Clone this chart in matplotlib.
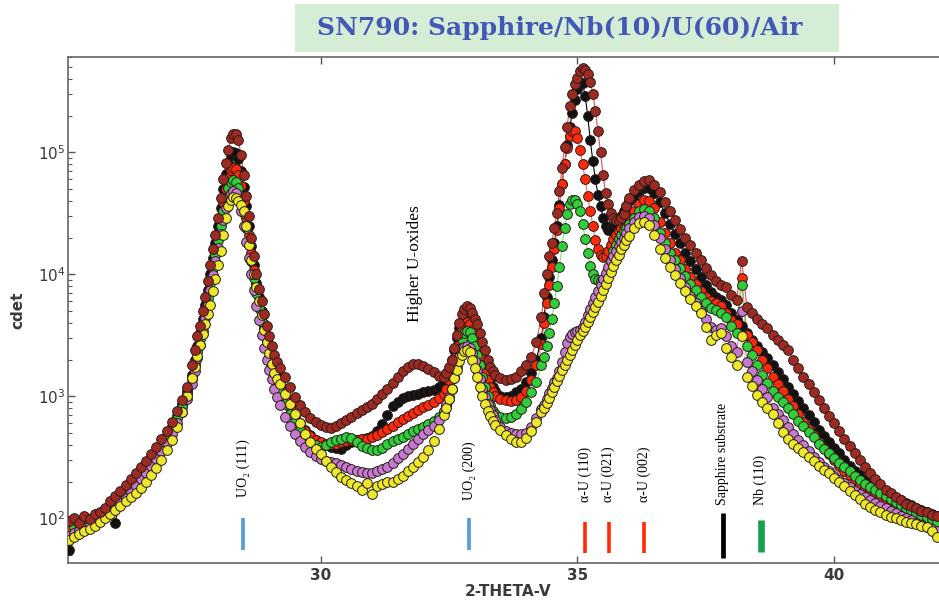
import numpy as np
import matplotlib
matplotlib.use("Agg")
import matplotlib.pyplot as plt
from matplotlib.patches import Rectangle
from matplotlib.ticker import NullLocator

plt.rcParams["mathtext.default"] = "bf"

# 2-theta scan positions (finer step over the steep peak flanks)
two_theta = np.round(np.concatenate([
    np.arange(25.1, 27.51, 0.1),
    np.arange(27.55, 29.21, 0.05),
    np.arange(29.3, 32.41, 0.1),
    np.arange(32.45, 33.41, 0.05),
    np.arange(33.5, 34.31, 0.1),
    np.arange(34.35, 36.01, 0.05),
    np.arange(36.1, 42.01, 0.1),
]), 2)

# counts, one list per scan
darkred = [95, 101, 92, 104, 99, 108, 112, 122, 138, 152, 168, 188, 210, 235, 262, 295, 335, 385, 445, 520, 620, 760, 940, 1200, 1800,
           2400, 3100, 3800, 5000, 6500, 8800, 12000, 16000, 21000, 29000, 42000, 60000, 82000, 105000, 130000, 142000, 140000,
           125000, 95000, 65000, 44000, 30000, 20000, 14000, 10000, 7600, 6000, 4700, 3800, 3100, 2600, 2200, 1900, 1700,
           1450, 1200, 980, 850, 740, 660, 610, 580, 560, 550, 570, 600, 640, 680, 730, 770, 820, 870, 950, 1040, 1150, 1280,
           1430, 1600, 1750, 1850, 1850, 1780, 1680, 1580, 1480, 1450,
           1550, 1750, 2000, 2500, 3200, 4000, 4700, 5200, 5500, 5300, 4800, 4300, 3900, 3300, 2800, 2400, 2000, 1750, 1600, 1500,
           1400, 1350, 1380, 1450, 1600, 1800, 2100, 2800, 4500,
           7000, 10000, 14000, 18000, 24000, 32000, 48000, 75000, 110000, 160000, 240000, 300000, 360000, 410000, 460000,
           490000, 470000, 440000, 380000, 300000, 220000, 150000, 100000, 65000, 46000, 38000, 32000, 29000, 28000, 28000,
           29000, 31000, 36000, 42000,
           49000, 54000, 58000, 59000, 54000, 47000, 39000, 33000, 28000, 23500, 20000, 17500, 15000, 13000, 11200, 9800, 8800,
           8200, 7800, 6800, 6200, 12900, 5400, 4800, 4300, 3900, 3600, 3200, 2900, 2650, 2400, 2000, 1700, 1450, 1250, 1080,
           930, 800, 690, 600, 520, 450, 390, 340, 300, 265, 235, 210, 190, 172, 160, 150, 140, 132, 125, 121, 114, 112, 106, 104]

black = [55, 85, 88, 90, 95, 98, 105, 112, 120, 92, 145, 165, 190, 218, 240, 270, 305, 350, 405, 475, 565, 690, 860, 1100, 1500,
         2000, 2600, 3300, 4300, 5600, 7500, 10000, 13500, 18000, 25000, 35000, 50000, 66000, 82000, 95000, 100000, 98000,
         88000, 70000, 52000, 36000, 25000, 17000, 12000, 8500, 6500, 5000, 3900, 3100, 2500, 2050, 1700, 1450, 1250,
         1000, 830, 700, 600, 530, 480, 440, 410, 395, 385, 380, 370, 400, 420, 440, 450, 455, 470, 520, 590, 700, 830, 900,
         960, 1000, 1030, 1050, 1080, 1100, 1130, 1200, 1300,
         1450, 1650, 2000, 2400, 3000, 3600, 4100, 4400, 4500, 4300, 3900, 3400, 2900, 2500, 2100, 1800, 1550, 1350, 1200, 1100,
         1000, 980, 1000, 1080, 1150, 1300, 1550, 2000, 3000,
         4500, 6500, 9500, 13000, 18000, 25000, 37000, 55000, 80000, 115000, 160000, 210000, 270000, 330000, 360000, 370000,
         290000, 200000, 125000, 85000, 60000, 45000, 36000, 29000, 25000, 23000, 23000, 24000, 26000, 28000, 30000, 33000,
         36000, 40000,
         44000, 48000, 51000, 51000, 46000, 39000, 32000, 26000, 21500, 18000, 15000, 12800, 11000, 9500, 8200, 7200, 6500,
         6200, 5600, 4800, 4200, 3800, 3300, 2900, 2600, 2300, 2050, 1800, 1580, 1380, 1200, 1050, 920, 800, 700, 610, 530,
         470, 420, 380, 340, 300, 270, 245, 225, 205, 190, 178, 168, 160, 152, 146, 140, 134, 128, 122, 117, 112, 108, 104]

red = [82, 90, 93, 96, 99, 102, 108, 116, 126, 138, 152, 170, 192, 215, 240, 270, 305, 350, 405, 470, 560, 680, 850, 1080, 1450,
       1900, 2450, 3100, 4000, 5200, 6900, 9200, 12200, 16000, 21500, 29000, 39000, 50000, 62000, 71000, 75000, 73000, 65000,
       53000, 40000, 29000, 21000, 15000, 10800, 7800, 5900, 4600, 3600, 2900, 2350, 1950, 1600, 1380, 1200,
       950, 800, 680, 590, 520, 470, 440, 420, 410, 405, 410, 420, 430, 435, 440, 445, 450, 460, 480, 505, 535, 570, 610, 650,
       690, 730, 770, 810, 850, 900, 960, 1050,
       1150, 1350, 1650, 2050, 2600, 3200, 3650, 3950, 4050, 3900, 3500, 3000, 2500, 2100, 1800, 1550, 1350, 1200, 1080, 1000,
       950, 930, 920, 930, 980, 1100, 1350, 1800, 2700,
       4000, 5800, 8200, 11500, 16000, 23000, 35000, 55000, 80000, 108000, 135000, 150000, 150000, 130000, 105000, 80000,
       60000, 44000, 33000, 25000, 19000, 16000, 14500, 13800, 14200, 15500, 17500, 19500, 21000, 22500, 24000, 25500,
       27000, 29000,
       33000, 38000, 41000, 40000, 35000, 27000, 22000, 18000, 15000, 13000, 11000, 9500, 8300, 7300, 6500, 6000, 5800, 5500,
       4800, 4200, 3900, 9300, 3200, 2800, 2400, 2000, 1700, 1450, 1250, 1100, 950, 830, 720, 620, 540, 480, 420, 375, 335,
       300, 270, 245, 225, 205, 190, 178, 168, 158, 150, 142, 136, 130, 124, 118, 113, 108, 104, 100, 97, 94]

green = [70, 85, 90, 93, 96, 100, 106, 113, 122, 133, 146, 162, 182, 205, 230, 258, 292, 335, 390, 455, 540, 660, 820, 1040, 1380,
         1800, 2300, 2950, 3800, 4900, 6400, 8500, 11200, 14500, 19000, 25000, 33000, 42000, 51000, 57000, 59000, 57000,
         51000, 42000, 32000, 24000, 17500, 12800, 9400, 7000, 5300, 4100, 3200, 2600, 2100, 1750, 1450, 1250, 1080,
         860, 720, 610, 530, 470, 425, 395, 385, 400, 425, 440, 450, 460, 455, 420, 390, 375, 365, 365, 380, 405, 430, 450,
         465, 490, 515, 540, 565, 595, 630, 680, 750,
         830, 950, 1150, 1450, 1900, 2450, 2950, 3300, 3450, 3350, 3000, 2600, 2200, 1800, 1450, 1200, 1000, 850, 760, 710,
         680, 670, 680, 720, 790, 900, 1080, 1300, 1800,
         2100, 2600, 3300, 4300, 5800, 8000, 11500, 17000, 24000, 31000, 38000, 41000, 41000, 38000, 33000, 26000, 19500,
         15000, 11800, 10000, 9200, 8900, 8800, 9000, 9800, 11000, 13000, 15500, 17500, 19500, 21000, 22500, 24000, 26000,
         29000, 33000, 34000, 33000, 29000, 22000, 18000, 15000, 13000, 11200, 9600, 8400, 7400, 6500, 5800, 5300, 5100, 4800,
         4500, 3800, 3300, 8200, 2600, 2200, 1800, 1500, 1280, 1100, 980, 900, 800, 710, 630, 570, 510, 460, 410, 370, 340,
         310, 285, 262, 242, 222, 206, 192, 180, 170, 160, 151, 143, 136, 129, 122, 116, 111, 106, 102, 98, 94]

purple = [72, 76, 80, 84, 88, 92, 98, 105, 113, 122, 134, 148, 165, 185, 208, 235, 267, 305, 355, 415, 495, 600, 750, 950, 1250,
          1600, 2050, 2650, 3400, 4400, 5700, 7500, 9800, 12800, 16500, 21500, 28000, 35000, 42000, 46500, 48000, 46500,
          41000, 33000, 25000, 18500, 13500, 10000, 7400, 5500, 4200, 3200, 2500, 2000, 1650, 1380, 1150, 980, 850,
          680, 570, 490, 430, 385, 350, 325, 305, 295, 288, 283, 275, 262, 252, 245, 240, 236, 236, 242, 252, 265, 285, 310,
          338, 370, 405, 450, 490, 530, 575, 640, 760,
          860, 980, 1150, 1400, 1750, 2100, 2400, 2550, 2600, 2500, 2250, 1950, 1650, 1380, 1150, 980, 860, 770, 700, 640,
          560, 520, 500, 490, 490, 500, 560, 660, 790,
          850, 950, 1060, 1180, 1300, 1420, 1600, 1900, 2300, 2750, 3050, 3250, 3350, 3450, 3500, 3700, 4100, 4600, 5200,
          5800, 6500, 7300, 8200, 9200, 10300, 11500, 12800, 14200, 15600, 17000, 18500, 20000, 22000, 24000,
          27000, 29500, 30000, 29000, 25500, 20000, 16000, 13200, 11000, 9300, 7900, 6700, 5800, 5000, 4300, 3700, 3500, 3600,
          3100, 2600, 2300, 5000, 1900, 1600, 1350, 1150, 980, 800, 720, 640, 560, 495, 440, 395, 355, 320, 290, 265, 243,
          224, 207, 193, 180, 168, 158, 149, 141, 134, 127, 121, 115, 110, 105, 100, 96, 92, 88, 85, 82, 79]

yellow = [66, 70, 74, 78, 82, 87, 93, 100, 108, 116, 126, 138, 150, 162, 176, 198, 225, 258, 300, 360, 440, 560, 740, 1000, 1400,
          1750, 2150, 2650, 3250, 3900, 4700, 5600, 7300, 9200, 12000, 15500, 21000, 29000, 36000, 41000, 43000, 42500,
          40000, 37000, 33000, 25000, 17500, 13000, 10000, 7800, 6000, 4600, 3500, 2800, 2250, 1850, 1550, 1380, 1250,
          1050, 860, 720, 600, 490, 420, 370, 335, 295, 262, 238, 220, 207, 195, 185, 172, 195, 158, 185, 192, 198, 200, 208,
          222, 242, 262, 288, 318, 360, 430, 540, 700,
          800, 950, 1150, 1400, 1650, 1950, 2200, 2350, 2400, 2300, 2000, 1700, 1430, 1200, 1000, 860, 760, 690, 630, 580,
          530, 480, 445, 425, 425, 455, 520, 610, 740,
          800, 880, 970, 1080, 1200, 1330, 1480, 1650, 1820, 2000, 2200, 2400, 2650, 2900, 3150, 3400, 3700, 4050, 4450, 4900,
          5400, 5950, 6600, 7400, 8300, 9300, 10500, 11800, 13000, 14500, 16000, 17500, 19000, 20500,
          24000, 26500, 27000, 25500, 21000, 16000, 13500, 11500, 9800, 8500, 7300, 6300, 5500, 4800, 3700, 2900, 3200, 3300,
          2500, 2100, 1800, 3100, 1450, 1220, 1020, 900, 800, 710, 600, 510, 450, 410, 380, 350, 318, 295, 270, 250, 236,
          215, 200, 185, 168, 155, 145, 132, 124, 118, 112, 106, 103, 100, 97, 94, 91, 89, 87, 85, 78, 70]

# reflection markers
peak_pos = [28.49, 32.89, 35.15, 35.61, 36.30, 37.83, 38.57]
peak_names = ["UO\u2082 (111)", "UO\u2082 (200)", "\u03b1-U (110)", "\u03b1-U (021)", "\u03b1-U (002)",
              "Sapphire substrate", "Nb (110)"]

fig = plt.figure(figsize=(9.39, 6.01), dpi=100)
ax = fig.add_axes([68 / 939, 38 / 601, (960 - 68) / 939, (563 - 57) / 601])

# (data, face, line colour), drawn bottom to top
scans = [(black, "#111111", "#000000"),
         (red, "#ff2a0a", "#ff6a5a"),
         (green, "#2fcf3a", "#7fe07f"),
         (purple, "#c77bd0", "#c77bd0"),
         (yellow, "#ece92a", "#e8e060"),
         (darkred, "#9e2b22", "#d9534f")]
for data, face, lc in scans:
    n = min(len(data), len(two_theta))
    ax.plot(two_theta[:n], data[:n], "-", color=lc, lw=0.8, zorder=2)
    ax.plot(two_theta[:n], data[:n], "o", ms=7, mfc=face, mec="#2a1a1a", mew=0.7, zorder=3)

# tick bars and labels for the reflections
bar_col = ["#5aa0d8", "#5aa0d8", "#ff2a00", "#ff2a00", "#ff2a00", "#000000", "#16a050"]
bar_lw = [2.8, 2.8, 2.6, 2.6, 2.6, 3.4, 4.8]
bar_lo = [55, 55, 52, 52, 52, 47, 53]
bar_hi = [100, 100, 93, 93, 93, 110, 97]
lab_y = [150, 141, 136, 136, 136, 128, 128]
for i in range(len(peak_pos)):
    ax.vlines(peak_pos[i], bar_lo[i], bar_hi[i], colors=bar_col[i], lw=bar_lw[i], zorder=4)
    ax.text(peak_pos[i], lab_y[i], peak_names[i], rotation=90, ha="center", va="bottom",
            family=["Liberation Serif", "DejaVu Serif"], fontsize=10, zorder=5)

ax.text(31.84, 4040, "Higher U-oxides", rotation=90, ha="center", va="bottom",
        family=["Liberation Serif", "DejaVu Serif"], fontsize=12.5)

ax.set_yscale("log")
ax.set_xlim(25.08, 42.45)
ax.set_ylim(43, 6.04e5)
ax.set_xticks([30, 35, 40])
ax.xaxis.set_minor_locator(NullLocator())
ax.tick_params(which="both", direction="in", top=True, right=False, colors="#555555",
               labelcolor="#3a3a3a", labelsize=11)
ax.tick_params(which="major", length=5, width=1)
ax.tick_params(which="minor", length=3, width=0.8)
ax.tick_params(axis="y", pad=2)
for lab in ax.get_xticklabels():
    lab.set_fontweight("bold")
for s in ax.spines.values():
    s.set_color("#666666")
    s.set_linewidth(1.2)

ax.set_xlabel("2-THETA-V", fontsize=11, color="#3a3a3a", fontweight="bold")
ax.xaxis.set_label_coords(0.493, -0.0415)
ax.set_ylabel("cdet", fontsize=11, color="#3a3a3a", fontweight="bold")
ax.yaxis.set_label_coords(-0.048, 0.5)

# title box
fig.patches.append(Rectangle((295 / 939, 1 - 52 / 601), (839 - 295) / 939, 48 / 601,
                             transform=fig.transFigure, facecolor="#d5edd5", edgecolor="none"))
fig.text(560 / 939, 1 - 28 / 601, "SN790: Sapphire/Nb(10)/U(60)/Air", ha="center", va="center",
         family="DejaVu Serif", fontweight="bold", fontsize=18, color="#4357b8")

fig.savefig("out.png", dpi=100)
